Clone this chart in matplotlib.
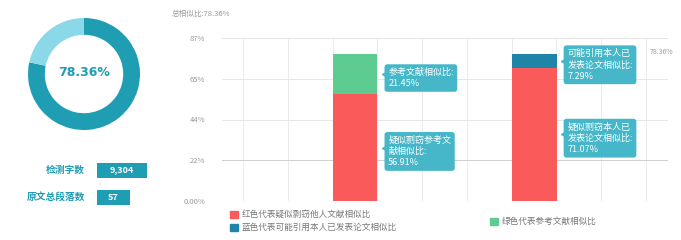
import matplotlib
matplotlib.use('Agg')
import matplotlib.pyplot as plt
from matplotlib.patches import Patch, FancyBboxPatch

plt.rcParams['font.family'] = ['Noto Sans CJK SC', 'DejaVu Sans']

# data
total_ratio = 78.36
ring_values = [78.36, 21.64]
info_labels = ['检测字数', '原文总段落数']
info_values = ['9,304', '57']

bar_names = ['参考文献', '本人已发表论文']
red_values = [56.91, 71.07]      # 疑似剽窃
green_values = [21.45, 0.0]      # 参考文献
blue_values = [0.0, 7.29]        # 可能引用本人已发表论文
bar_pos = [2.5, 6.5]

y_ticks = [0, 21.75, 43.5, 65.25, 87]
y_tick_labels = ['0.00%', '22%', '44%', '65%', '87%']

red_labels = ['疑似剽窃参考文\n献相似比:\n56.91%', '疑似剽窃本人已\n发表论文相似比:\n71.07%']
green_label = '参考文献相似比:\n21.45%'
blue_label = '可能引用本人已\n发表论文相似比:\n7.29%'
legend_red = '红色代表疑似剽窃他人文献相似比'
legend_blue = '蓝色代表可能引用本人已发表论文相似比'
legend_green = '绿色代表参考文献相似比'

RED = '#fa5a5a'
GREEN = '#5ecb90'
BLUE = '#1d86a8'
TEAL = '#1e9db3'
LIGHT = '#8ad8e8'
TIP = '#45b7c8'
GRAY = '#9a9a9a'

W, H = 681, 240
fig = plt.figure(figsize=(W / 100, H / 100), dpi=100)

# ---- donut
cx, cy, r = 84, 74, 56
axd = fig.add_axes([(cx - r) / W, 1 - (cy + r) / H, 2 * r / W, 2 * r / H])
axd.pie(ring_values, colors=[TEAL, LIGHT], startangle=90, counterclock=False,
        radius=1.0, wedgeprops=dict(width=0.3, edgecolor='none'))
axd.set_xlim(-1.0, 1.0)
axd.set_ylim(-1.0, 1.0)
axd.set_aspect('auto')
axd.axis('off')
axd.text(0, 0.02, f'{total_ratio:.2f}%', ha='center', va='center',
         fontsize=9, fontweight='bold', color=TEAL, family='DejaVu Sans')

# ---- info boxes
rows_y = [170, 197]
box_w = [50, 33]
for lab, val, yy, bw in zip(info_labels, info_values, rows_y, box_w):
    fig.text(85 / W, 1 - yy / H, lab, ha='right', va='center', fontsize=7,
             fontweight='bold', color=TEAL)
    fig.add_artist(FancyBboxPatch((97 / W, 1 - (yy + 8) / H), bw / W, 15 / H,
                                  boxstyle='square,pad=0', fc=TEAL, ec='none',
                                  transform=fig.transFigure))
    fig.text((97 + bw / 2) / W, 1 - yy / H, val, ha='center', va='center',
             fontsize=6.5, fontweight='bold', color='white')

# ---- stacked bars
ax = fig.add_axes([222 / W, 1 - 201 / H, 446 / W, 163 / H])
ax.set_xlim(-0.47, 9.49)
ax.set_ylim(0, 87)
ax.bar(bar_pos, red_values, width=1.0, color=RED, zorder=3)
ax.bar(bar_pos, green_values, width=1.0, bottom=red_values, color=GREEN, zorder=3)
ax.bar(bar_pos, blue_values, width=1.0, bottom=red_values, color=BLUE, zorder=3)

for x in range(10):
    ax.axvline(x, color='#ececec', lw=0.7, zorder=1)
for i, t in enumerate(y_ticks):
    ax.axhline(t, color='#cfcfcf' if i == 1 else '#e6e6e6', lw=0.7, zorder=1)
ax.set_yticks(y_ticks)
ax.set_yticklabels(y_tick_labels)
ax.set_xticks([])
ax.tick_params(axis='y', length=0, pad=12, labelsize=5.5, labelcolor=GRAY)
for s in ax.spines.values():
    s.set_visible(False)


def callout(xb, yc, text):
    ax.text(xb + 0.24, yc - 2, text, ha='left', va='center', fontsize=6.5,
            color='white', linespacing=1.3, zorder=5,
            bbox=dict(boxstyle='round,pad=0.4,rounding_size=0.3', fc=TIP, ec='none'))
    ax.plot(xb + 0.14, yc, marker='<', ms=3, color=TIP, zorder=5)


for p, rv, lab in zip(bar_pos, red_values, red_labels):
    callout(p + 0.5, rv / 2, lab)
callout(bar_pos[0] + 0.5, red_values[0] + green_values[0] / 2, green_label)
callout(bar_pos[1] + 0.5, red_values[1] + blue_values[1] / 2, blue_label)

ax.text(9.08, total_ratio + 1, f'{total_ratio:.2f}%', ha='left', va='center',
        fontsize=5, color=GRAY, clip_on=False)

fig.text(172 / W, 1 - 14 / H, f'总相似比:{total_ratio:.2f}%', ha='left', va='center',
         fontsize=5.5, color=GRAY)

# ---- legends
fig.legend(handles=[Patch(color=RED, label=legend_red), Patch(color=BLUE, label=legend_blue)],
           loc='upper left', bbox_to_anchor=(226 / W, 1 - 206 / H), frameon=False,
           fontsize=6.2, handlelength=0.9, handleheight=0.9, handletextpad=0.4,
           labelspacing=0.45, borderpad=0, labelcolor='#777777')
fig.legend(handles=[Patch(color=GREEN, label=legend_green)],
           loc='upper left', bbox_to_anchor=(486 / W, 1 - 213 / H), frameon=False,
           fontsize=6.2, handlelength=0.9, handleheight=0.9, handletextpad=0.4,
           borderpad=0, labelcolor='#777777')

fig.savefig('out.png', dpi=100)
